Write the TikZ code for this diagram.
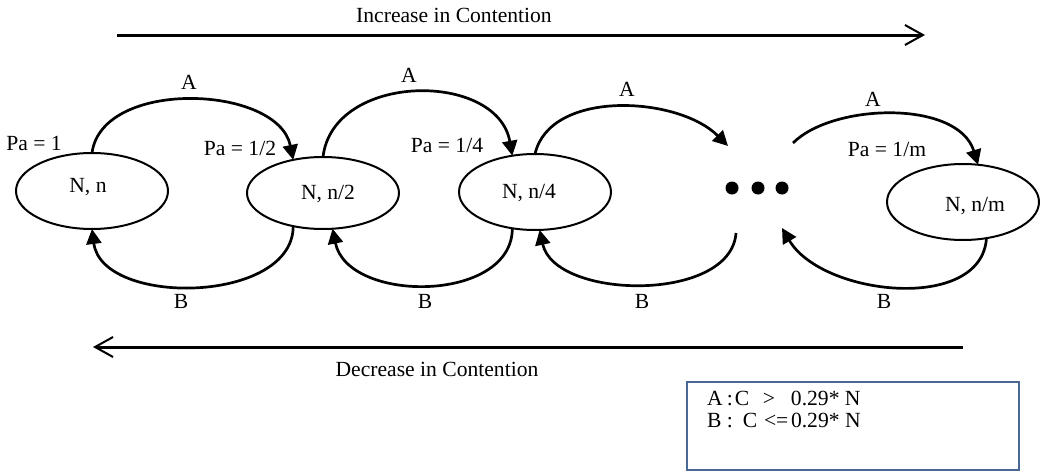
\documentclass[tikz,border=0pt]{standalone}
\usepackage{fontspec}
\setmainfont{Liberation Serif}
\usetikzlibrary{arrows.meta,shapes.geometric}
\definecolor{boxblue}{HTML}{4A6894}
\begin{document}
\begin{tikzpicture}[x=0.5pt,y=-0.5pt,
  every node/.style={font=\fontsize{10.8}{13}\selectfont, inner sep=0pt, outer sep=0pt},
  state/.style={draw, ellipse, line width=1pt, minimum width=76pt, minimum height=38pt},
  txt/.style={anchor=base},
  arcarrow/.style={line width=1.35pt, -{Triangle[length=7.5pt,width=7.5pt]}},
  bigarrow/.style={line width=1.5pt, -{Straight Barb[length=9pt,width=10pt,line width=1pt]}},
  dot/.style={circle, fill, minimum size=6.5pt},
  legendbox/.style={draw=boxblue, line width=1pt, minimum width=166pt, minimum height=44pt}]
\useasboundingbox (0,0) rectangle (1040,471);

% top / bottom arrows
\coordinate (incS) at (117,35);
\coordinate (incE) at (925,35);
\draw[bigarrow] (incS) -- (incE);
\node[txt] (inc) at (454,23) {Increase in Contention};
\coordinate (decS) at (963,347);
\coordinate (decE) at (93,347);
\draw[bigarrow] (decS) -- (decE);
\node[txt] (dec) at (437,376) {Decrease in Contention};

% states
\node[state] (e1) at (92,191) {};
\node[state, minimum height=36pt] (e2) at (323,193) {};
\node[state] (e3) at (535,192) {};
\node[state] (e4) at (963,202) {};
\node[txt] (t1) at (88,192) {N, n};
\node[txt] (t2) at (328,199) {N, n/2};
\node[txt] (t3) at (529,198) {N, n/4};
\node[txt] (t4) at (975,211) {N, n/m};

% dots
\node[dot] (d1) at (732,188) {};
\node[dot] (d2) at (758,188) {};
\node[dot] (d3) at (782,188) {};
\coordinate (a3end) at (728,146);
\coordinate (a4start) at (793,143);
\coordinate (b3start) at (736,233);
\coordinate (b4end) at (782,228);

% A arcs
\draw[arcarrow] (e1.north) .. controls +(10,-75) and +(-15,-75) .. (e2.132);
\draw[arcarrow] (e2.north) .. controls +(10,-85) and +(-15,-85) .. (e3.122.6);
\draw[arcarrow] (e3.north) .. controls +(15,-65) and +(-50,-50) .. (a3end);
\draw[arcarrow] (a4start) .. controls +(40,-40) and +(-20,-65) .. (e4.68);

% B arcs
\draw[arcarrow] (e2.228) .. controls +(0,78) and +(10,78) .. (e1.south);
\draw[arcarrow] (e3.238.6) .. controls +(0,75) and +(15,75) .. (e2.285.5);
\draw[arcarrow] (b3start) .. controls +(-5,70) and +(15,70) .. (e3.277.5);
\draw[arcarrow] (e4.303.7) .. controls +(-5,75) and +(40,68) .. (b4end);

% labels
\node[txt] (la1) at (189,89) {A};
\node[txt] (la2) at (409,83) {A};
\node[txt] (la3) at (627,97) {A};
\node[txt] (la4) at (873,106) {A};
\node[txt] (lb1) at (181,308) {B};
\node[txt] (lb2) at (425,308) {B};
\node[txt] (lb3) at (642,308) {B};
\node[txt] (lb4) at (884,308) {B};
\node[txt] (p1) at (34,150) {Pa = 1};
\node[txt] (p2) at (240,155) {Pa = 1/2};
\node[txt] (p3) at (447,152) {Pa = 1/4};
\node[txt] (p4) at (887,156) {Pa = 1/m};

% legend
\node[legendbox] (legend) at (853,426) {};
\node[anchor=base west] (lgA) at (706,405) {\rlap{A}\rlap{\hspace{10pt}:}\rlap{\hspace{14pt}C}\rlap{\hspace{28pt}>}\rlap{\hspace{42pt}0.29* N}};
\node[anchor=base west] (lgB) at (706,427) {\rlap{B}\rlap{\hspace{10pt}:}\rlap{\hspace{18pt}C}\rlap{\hspace{28.5pt}<}\rlap{\hspace{34.5pt}=}\rlap{\hspace{42pt}0.29* N}};
\end{tikzpicture}
\end{document}
